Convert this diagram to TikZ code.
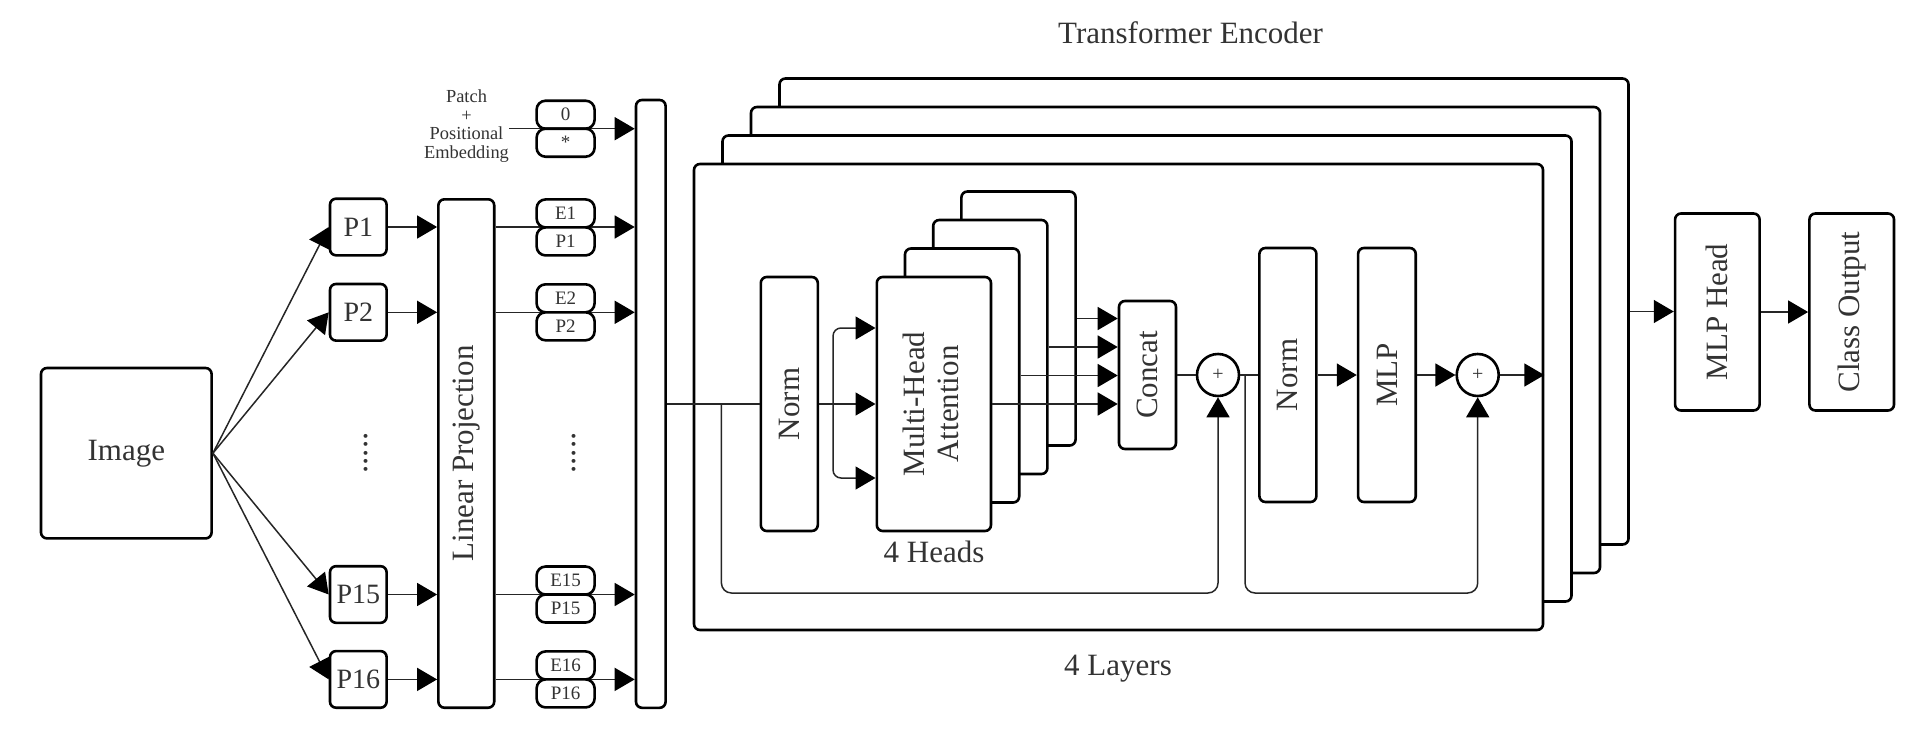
\documentclass[tikz,border=0pt]{standalone}
\usepackage{fontspec}
\setmainfont{Liberation Serif}
\usetikzlibrary{arrows.meta}
\definecolor{txt}{HTML}{333333}
\begin{document}
\begin{tikzpicture}[x=0.5pt,y=-0.5pt,
  bx/.style={draw=black, line width=1.3pt, rounded corners=3pt, fill=white, inner sep=0pt, text=txt, font=\fontsize{15.5}{18}\selectfont},
  sm/.style={bx, font=\fontsize{9.5}{11}\selectfont, minimum width=29pt, minimum height=14pt, rounded corners=4.5pt},
  pbox/.style={bx, minimum width=28.3pt, minimum height=28.3pt, font=\fontsize{14}{16}\selectfont},
  layer/.style={bx, minimum width=424.5pt, minimum height=233pt},
  head/.style={bx, minimum width=57.1pt, minimum height=127pt},
  tall/.style={bx, minimum width=28.5pt, minimum height=127pt},
  plus/.style={circle, draw=black, line width=1.3pt, fill=white, minimum size=21pt, inner sep=0pt, text=txt, font=\fontsize{10}{10}\selectfont},
  conn/.style={line width=0.75pt, draw=black!85},
  arr/.style={conn, -{Triangle[length=10pt,width=11.5pt,color=black]}},
  lbl/.style={text=txt, font=\fontsize{15.5}{18}\selectfont, inner sep=0pt},
]
\useasboundingbox (0,0) rectangle (1930,744);

% ---------- left part ----------
\node[bx, minimum width=85.3pt, minimum height=85.2pt] (img) at (126.3,453.2) {Image};

\node[pbox] (p1) at (358.3,227) {P1};
\node[pbox] (p2) at (358.3,312.3) {P2};
\node[pbox] (p15) at (358.3,594.5) {P15};
\node[pbox] (p16) at (358.3,679.4) {P16};
\node[lbl, rotate=90, font=\fontsize{16.5}{18}\selectfont] (dots1) at (366,453) {.....};

\node[bx, minimum width=27.9pt, minimum height=254.2pt] (lp) at (466.3,453.5) {\rotatebox{90}{Linear Projection}};

\node[bx, minimum width=14.8pt, minimum height=303.9pt] (bar) at (650.8,403.9) {};

\node[lbl, align=center, font=\fontsize{9.2}{9.3}\selectfont] (pe) at (466.5,126) {Patch\\+\\Positional\\Embedding};
\coordinate (pestart) at (509,128.7);

\foreach \n in {p1, p2, p15, p16}{
  \draw[arr] (img.east) -- (\n.west);
  \draw[arr] (\n.east) -- (\n.east -| lp.west);
  \draw[arr] (\n.east -| lp.east) -- (\n.east -| bar.west);
}
\draw[arr] (pestart) -- (pestart -| bar.west);

\node[sm] (z0) at (565.6,114.7) {0};
\node[sm] (zs) at (565.6,142.7) {*};
\node[sm] (e1) at (565.6,213.4) {E1};
\node[sm] (q1) at (565.6,241.4) {P1};
\node[sm] (e2) at (565.6,298.3) {E2};
\node[sm] (q2) at (565.6,326.3) {P2};
\node[sm] (e15) at (565.6,580.5) {E15};
\node[sm] (q15) at (565.6,608.5) {P15};
\node[sm] (e16) at (565.6,665.4) {E16};
\node[sm] (q16) at (565.6,693.4) {P16};
\node[lbl, rotate=90, font=\fontsize{16.5}{18}\selectfont] (dots2) at (574,453) {.....};

% ---------- encoder layers ----------
\node[lbl] (title) at (1190.6,33) {Transformer Encoder};
\node[layer] (L4) at (1204,311.5) {};
\node[layer] (L3) at (1175.5,340) {};
\node[layer] (L2) at (1147,368.5) {};
\node[layer] (L1) at (1118.5,397) {};
\node[lbl] (layers) at (1118,669) {4 Layers};

\node[tall] (norm1) at (789.3,404) {\rotatebox{90}{Norm}};
\node[head] (h4) at (1018.5,318.5) {};
\node[head] (h3) at (990.3,347) {};
\node[head] (h2) at (962.1,375.5) {};
\node[head, align=center] (h1) at (933.9,404) {\rotatebox{90}{\begin{tabular}{c}Multi-Head\\[-1pt]Attention\end{tabular}}};
\node[lbl] (heads) at (934,552) {4 Heads};

\node[bx, minimum width=28.5pt, minimum height=74pt] (concat) at (1147.5,375) {\rotatebox{90}{Concat}};
\node[plus] (c1) at (1218,375) {+};
\node[tall] (norm2) at (1287.9,375) {\rotatebox{90}{Norm}};
\node[tall, minimum width=28.85pt] (mlp) at (1386.9,375) {\rotatebox{90}{MLP}};
\node[plus] (c2) at (1477.7,375) {+};

\node[bx, minimum width=42.25pt, minimum height=98.5pt] (mlph) at (1717.3,312) {\rotatebox{90}{MLP Head}};
\node[bx, minimum width=42.3pt, minimum height=98.5pt] (cls) at (1851.7,312) {\rotatebox{90}{Class Output}};

% main path
\draw[conn] (bar.east |- norm1.west) -- (norm1.west);
\coordinate (s1) at (721.4,404);
\coordinate (s1low) at (721.4,593);
\draw[arr, rounded corners=5pt] (s1) -- (s1low) -| (c1.south);

\coordinate (br) at (833,404);
\draw[conn] (norm1.east) -- (br);
\draw[arr] (br) -- (h1.west);
\draw[arr, rounded corners=4pt] (br) |- ([yshift=38pt]h1.west);
\draw[arr, rounded corners=4pt] (br) |- ([yshift=-37pt]h1.west);

\draw[arr] (h1.east) -- (h1.east -| concat.west);
\draw[arr] (h2.east) -- (h2.east -| concat.west);
\draw[arr] (h3.east) -- (h3.east -| concat.west);
\draw[arr] (h4.east) -- (h4.east -| concat.west);

\draw[conn] (concat.east) -- (c1.west);
\draw[conn] (c1.east) -- (norm2.west);
\draw[arr] (norm2.east) -- (mlp.west);
\draw[arr] (mlp.east) -- (c2.west);
\draw[arr] (c2.east) -- (c2.east -| L1.east);

\coordinate (s2) at (1245,375);
\coordinate (s2low) at (1245,593);
\draw[arr, rounded corners=5pt] (s2) -- (s2low) -| (c2.south);

\draw[arr] (L4.east) -- (L4.east -| mlph.west);
\draw[arr] (mlph.east) -- (cls.west);
\end{tikzpicture}
\end{document}
